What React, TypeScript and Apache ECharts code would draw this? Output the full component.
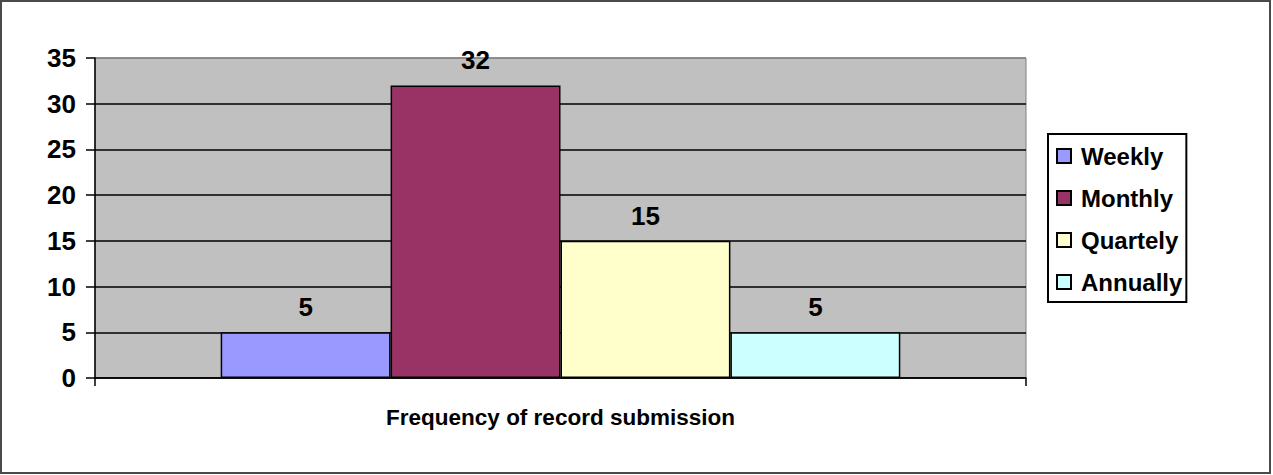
import React, { useEffect, useRef } from "react";
import * as echarts from "echarts";

const seriesNames = ["Weekly", "Monthly", "Quartely", "Annually"];
const seriesValues = [5, 32, 15, 5];
const seriesColors = ["#9999FF", "#993366", "#FFFFCC", "#CCFFFF"];
const categories = [""];
const axisTitle = "Frequency of record submission";
const yMin = 0;
const yMax = 35;
const yInterval = 5;

const FONT = "'Liberation Sans', Arial, sans-serif";

export default function App() {
  const ref = useRef<HTMLDivElement>(null);
  useEffect(() => {
    if (!ref.current) return;
    const chart = echarts.init(ref.current, null, { renderer: "svg" });
    const splitColors = [] as string[];
    for (let v = yMin; v <= yMax; v += yInterval) {
      splitColors.push(v === yMax ? "#808080" : "#000000");
    }
    chart.setOption({
      animation: false,
      backgroundColor: "#ffffff",
      graphic: [
        {
          type: "rect",
          shape: { x: 1, y: 1, width: 1269, height: 472 },
          style: { fill: "none", stroke: "#4a4a4a", lineWidth: 2 },
          z: 100,
        },
      ],
      grid: {
        left: 95,
        top: 58,
        width: 931,
        height: 320,
        show: true,
        backgroundColor: "#C0C0C0",
        borderColor: "#808080",
        borderWidth: 1,
      },
      legend: {
        orient: "vertical",
        left: 1048,
        top: 134,
        backgroundColor: "#ffffff",
        borderColor: "#000000",
        borderWidth: 2,
        borderRadius: 0,
        padding: [10, 4, 8, 8],
        itemWidth: 14,
        itemHeight: 14,
        itemGap: 18,
        icon: "rect",
        data: seriesNames,
        textStyle: {
          fontFamily: FONT,
          fontWeight: "bold",
          fontSize: 24,
          color: "#000000",
          padding: [0, 0, 0, 5],
        },
      },
      xAxis: {
        type: "category",
        data: categories,
        name: axisTitle,
        nameLocation: "middle",
        nameGap: 28,
        nameTextStyle: {
          fontFamily: FONT,
          fontWeight: "bold",
          fontSize: 22.5,
          color: "#000000",
        },
        axisLine: { show: true, lineStyle: { color: "#000000", width: 1.5 } },
        axisTick: { show: true, length: 8, lineStyle: { color: "#000000", width: 1.5 } },
        axisLabel: { show: false },
      },
      yAxis: {
        type: "value",
        min: yMin,
        max: yMax,
        interval: yInterval,
        axisLine: { show: true, lineStyle: { color: "#000000", width: 1.5 } },
        axisTick: { show: true, length: 9, lineStyle: { color: "#000000", width: 1.5 } },
        axisLabel: {
          margin: 19,
          fontFamily: FONT,
          fontWeight: "bold",
          fontSize: 26,
          color: "#000000",
        },
        splitLine: { show: true, lineStyle: { color: splitColors, width: 1.5 } },
      },
      series: seriesNames.map((name, i) => ({
        name,
        type: "bar",
        barGap: "0%",
        barCategoryGap: "27%",
        data: [seriesValues[i]],
        itemStyle: { color: seriesColors[i], borderColor: "#000000", borderWidth: 1.5 },
        label: {
          show: true,
          position: "top",
          distance: 12,
          fontFamily: FONT,
          fontWeight: "bold",
          fontSize: 26,
          color: "#000000",
        },
      })),
    });
    return () => chart.dispose();
  }, []);
  return (
    <div
      ref={ref}
      style={{ position: "fixed", left: 0, top: 0, width: 1273, height: 475 }}
    />
  );
}
